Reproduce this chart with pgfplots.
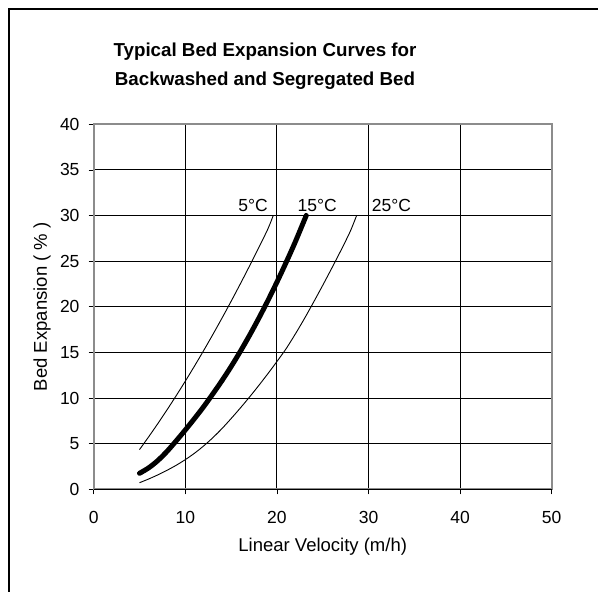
\documentclass[border=0pt]{standalone}
\usepackage{pgfplots}
\pgfplotsset{compat=1.18}
\usepackage{fontspec}
\setmainfont{Liberation Sans}
\begin{document}
\begin{tikzpicture}[x=1bp,y=1bp]
\useasboundingbox (0,0) rectangle (598,592);
\draw[black, line width=2.5bp] (9,0) -- (9,583) -- (598,583);
\node[font=\fontsize{18.75bp}{22.5bp}\selectfont\bfseries, align=center] at (265,525.6) {Typical Bed Expansion Curves for\\[6.8bp]Backwashed and Segregated Bed};
\begin{axis}[
  at={(93.7bp,102.7bp)}, anchor=south west,
  width=458bp, height=365bp, scale only axis=true,
  xmin=0, xmax=50, ymin=0, ymax=40,
  xtick={0,10,...,50}, ytick={0,5,...,40},
  grid=major, grid style={black, line width=0.9bp},
  axis line style={draw=gray!90, line width=1.6bp},
  tick align=outside, tick pos=left,
  major tick length=5bp,
  tick style={black, line width=0.8bp},
  /pgf/number format/assume math mode=true,
  ticklabel style={font=\fontsize{17.5bp}{20bp}\selectfont},
  xticklabel style={yshift=-13.5bp},
  yticklabel style={xshift=-5.7bp},
  xlabel={Linear Velocity (m/h)},
  ylabel={Bed Expansion ( \% )},
  label style={font=\fontsize{18.5bp}{21bp}\selectfont},
  xlabel style={at={(axis description cs:0.5,-0.158)}, anchor=center},
  ylabel style={at={(axis description cs:-0.1129,0.5)}, anchor=center},
  clip=false,
]
% 5 C
\addplot[black, line width=0.9bp, smooth] coordinates {
(5,4.35) (6,5.75) (7,7.2) (8,8.7) (9,10.25) (10,11.85) (11,13.5) (12,15.2) (13,16.95) (14,18.75) (15,20.6) (16,22.5) (17,24.45) (18,26.45) (19,28.5) (19.6,30)};
% 15 C
\addplot[black, line width=5bp, smooth, line cap=round] coordinates {
(5,1.75) (6,2.35) (7,3.15) (8,4.15) (9,5.3) (10,6.5) (11,7.75) (12,9.05) (13,10.45) (14,11.9) (15,13.45) (16,15.1) (17,16.85) (18,18.7) (19,20.65) (20,22.7) (21,24.85) (22,27.1) (23.2,30)};
% 25 C
\addplot[black, line width=0.9bp, smooth] coordinates {
(5,0.72) (6,1.13) (7,1.58) (8,2.08) (9,2.63) (10,3.25) (11,3.95) (12,4.75) (13,5.65) (14,6.65) (15,7.75) (16,8.9) (17,10.1) (18,11.35) (19,12.65) (20,14.0) (21,15.4) (22,17.0) (23,18.7) (24,20.5) (25,22.35) (26,24.25) (27,26.2) (28,28.25) (28.7,30)};
\draw[black, line width=1bp] (axis cs:0,0) -- (axis cs:50,0);
\node[font=\fontsize{17.5bp}{20bp}\selectfont] at (axis cs:17.4,31.1) {5°C};
\node[font=\fontsize{17.5bp}{20bp}\selectfont] at (axis cs:24.4,31.1) {15°C};
\node[font=\fontsize{17.5bp}{20bp}\selectfont] at (axis cs:32.5,31.1) {25°C};
\end{axis}
\end{tikzpicture}
\end{document}
